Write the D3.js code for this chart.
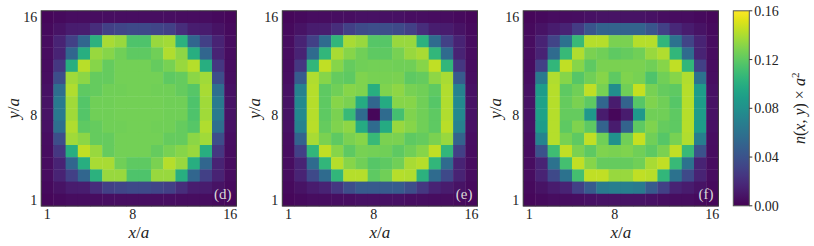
<!DOCTYPE html>
<html><head><meta charset="utf-8">
<script src="https://cdn.jsdelivr.net/npm/d3@7"></script>
<style>
html,body{margin:0;padding:0;background:#fff;}
</style></head>
<body><div id="chart"></div>
<script>
// Grid coordinates (site index) and tick labels
const sites = d3.range(1, 17);
const xTicks = [1, 8, 16];
const yTicks = [1, 8, 16];
const colorTicks = [0, 0.04, 0.08, 0.12, 0.16];
const panelLabels = ["(d)", "(e)", "(f)"];

// Density n(x,y)*a^2, rows listed from y=16 (top) down to y=1 (bottom), columns x=1..16
const densityD = [
 [.003,.004,.005,.005,.005,.006,.006,.006,.006,.006,.006,.005,.005,.005,.004,.003],
 [.004,.008,.012,.013,.020,.030,.033,.035,.035,.033,.030,.020,.013,.012,.008,.004],
 [.005,.015,.030,.052,.102,.139,.135,.115,.115,.135,.138,.102,.052,.030,.015,.005],
 [.005,.015,.052,.100,.135,.131,.125,.120,.120,.125,.141,.133,.100,.052,.015,.005],
 [.005,.025,.100,.143,.131,.122,.126,.126,.126,.122,.127,.135,.142,.100,.025,.005],
 [.006,.038,.137,.132,.122,.122,.126,.126,.126,.126,.120,.122,.132,.137,.038,.006],
 [.007,.058,.141,.120,.122,.125,.125,.126,.126,.125,.125,.122,.118,.139,.058,.007],
 [.008,.065,.137,.117,.125,.125,.126,.126,.126,.126,.125,.125,.115,.137,.065,.008],
 [.008,.065,.137,.117,.125,.125,.126,.126,.126,.126,.125,.125,.115,.137,.065,.008],
 [.007,.058,.141,.120,.122,.125,.125,.126,.126,.125,.125,.122,.118,.141,.058,.007],
 [.006,.038,.137,.132,.122,.122,.126,.126,.126,.126,.122,.122,.132,.137,.038,.006],
 [.005,.025,.100,.145,.135,.122,.126,.126,.126,.122,.127,.131,.135,.100,.025,.005],
 [.005,.015,.052,.100,.139,.139,.125,.120,.120,.128,.142,.135,.100,.052,.015,.005],
 [.005,.015,.030,.052,.102,.135,.135,.115,.115,.135,.135,.100,.052,.030,.015,.005],
 [.004,.008,.012,.013,.020,.030,.033,.035,.035,.033,.030,.020,.013,.012,.008,.004],
 [.003,.004,.005,.005,.005,.006,.006,.006,.006,.006,.006,.005,.005,.005,.004,.003]
];

const densityE = [
 [.003,.004,.005,.005,.006,.006,.007,.007,.007,.007,.006,.006,.005,.005,.004,.003],
 [.004,.008,.012,.013,.020,.030,.036,.038,.038,.036,.030,.020,.013,.012,.008,.004],
 [.005,.015,.030,.055,.105,.139,.135,.118,.118,.135,.135,.102,.055,.030,.015,.005],
 [.005,.015,.055,.105,.139,.131,.125,.120,.120,.127,.135,.139,.105,.055,.015,.005],
 [.005,.025,.105,.145,.131,.122,.125,.126,.126,.125,.125,.131,.145,.105,.025,.005],
 [.006,.045,.141,.131,.122,.120,.129,.127,.127,.128,.120,.122,.133,.139,.045,.006],
 [.007,.070,.142,.120,.125,.131,.129,.100,.129,.133,.127,.125,.120,.141,.070,.007],
 [.008,.075,.142,.120,.131,.128,.098,.052,.098,.131,.131,.125,.118,.141,.075,.008],
 [.008,.075,.142,.120,.128,.108,.055,.003,.055,.112,.129,.125,.120,.141,.075,.008],
 [.007,.070,.143,.122,.129,.133,.098,.055,.098,.135,.131,.125,.120,.143,.070,.007],
 [.006,.050,.139,.128,.120,.128,.131,.108,.128,.128,.120,.122,.128,.135,.050,.006],
 [.005,.030,.105,.145,.131,.120,.127,.126,.125,.120,.125,.131,.145,.105,.030,.005],
 [.005,.015,.055,.105,.142,.131,.125,.118,.120,.125,.139,.142,.105,.055,.015,.005],
 [.005,.015,.035,.055,.105,.142,.142,.120,.125,.142,.141,.102,.055,.035,.015,.005],
 [.004,.008,.012,.015,.025,.038,.045,.045,.045,.045,.038,.025,.015,.012,.008,.004],
 [.003,.004,.005,.005,.006,.006,.007,.007,.007,.007,.006,.006,.005,.005,.004,.003]
];

const densityF = [
 [.003,.004,.005,.005,.006,.007,.008,.008,.008,.008,.007,.006,.005,.005,.004,.003],
 [.004,.008,.012,.015,.028,.042,.050,.050,.050,.050,.042,.030,.018,.012,.008,.004],
 [.005,.015,.032,.060,.108,.142,.142,.128,.128,.142,.142,.105,.060,.032,.015,.005],
 [.005,.015,.055,.108,.141,.128,.125,.120,.122,.125,.135,.141,.105,.055,.015,.005],
 [.005,.030,.105,.145,.131,.120,.128,.128,.128,.128,.125,.131,.145,.105,.030,.005],
 [.006,.065,.141,.131,.118,.125,.131,.120,.129,.127,.115,.125,.131,.141,.060,.006],
 [.007,.088,.142,.120,.125,.145,.127,.078,.125,.146,.127,.122,.120,.142,.088,.007],
 [.008,.092,.142,.122,.128,.120,.052,.012,.050,.118,.129,.125,.118,.142,.088,.008],
 [.008,.092,.142,.122,.122,.085,.012,.003,.012,.085,.125,.125,.120,.142,.088,.008],
 [.007,.088,.142,.120,.129,.120,.050,.012,.050,.120,.129,.122,.120,.142,.088,.007],
 [.006,.072,.142,.127,.120,.145,.125,.080,.125,.146,.125,.118,.127,.141,.068,.006],
 [.005,.040,.110,.145,.128,.120,.129,.128,.129,.125,.120,.128,.145,.108,.040,.005],
 [.005,.015,.060,.112,.145,.131,.122,.122,.122,.125,.139,.145,.108,.060,.015,.005],
 [.005,.015,.035,.060,.112,.145,.145,.135,.135,.145,.143,.105,.060,.035,.015,.005],
 [.004,.008,.012,.015,.030,.045,.065,.068,.068,.065,.045,.030,.015,.012,.008,.004],
 [.003,.004,.005,.005,.006,.007,.008,.008,.008,.008,.007,.006,.005,.005,.004,.003]
];

const panels = [densityD, densityE, densityF];

// ---------- layout ----------
const W = 814, H = 246;
const FONT = '"Liberation Serif"';
const plotTop = 10.8, plotSize = 195.2;
const panelLefts = [41.2, 282.3, 523.2];
const cbar = {x: 733.3, w: 16, top: 10.8, h: 195};

const svg = d3.select("#chart").append("svg").attr("width", W).attr("height", H)
  .style("display", "block").attr("font-family", FONT);
const color = d3.scaleSequential(d3.interpolateViridis).domain([0, 0.16]);

function txt(parent, size) {
  return parent.append("text").attr("font-family", FONT).attr("font-size", size).attr("fill", "#222");
}
function italicFrac(sel, a, b) {
  sel.append("tspan").attr("font-style", "italic").text(a);
  sel.append("tspan").text("/");
  sel.append("tspan").attr("font-style", "italic").text(b);
}

panels.forEach((grid, p) => {
  const x0 = panelLefts[p];
  const x = d3.scaleBand().domain(sites).range([x0, x0 + plotSize]);
  const y = d3.scaleBand().domain(sites).range([plotTop + plotSize, plotTop]);
  const g = svg.append("g");

  const cells = [];
  grid.forEach((row, i) => row.forEach((v, j) => cells.push({xi: sites[j], yi: 16 - i, v})));
  g.selectAll("rect.cell").data(cells).join("rect")
    .attr("class", "cell")
    .attr("x", d => x(d.xi)).attr("y", d => y(d.yi))
    .attr("width", x.bandwidth() + 0.4).attr("height", y.bandwidth() + 0.4)
    .attr("fill", d => color(d.v));

  g.append("rect").attr("x", x0).attr("y", plotTop).attr("width", plotSize).attr("height", plotSize)
    .attr("fill", "none").attr("stroke", "#3a3a3a").attr("stroke-width", 1);

  // tick labels, positioned by the band scales
  xTicks.forEach(t => txt(g, 14).attr("x", x(t) + x.bandwidth() / 2).attr("y", plotTop + plotSize + 12.5)
    .attr("text-anchor", "middle").text(t));
  yTicks.forEach(t => txt(g, 14).attr("x", x0 - 4).attr("y", y(t) + y.bandwidth() / 2 + 5)
    .attr("text-anchor", "end").text(t));

  txt(g, 17).attr("x", x0 + plotSize / 2).attr("y", 238).attr("text-anchor", "middle").call(italicFrac, "x", "a");
  txt(g, 17).attr("transform", `translate(${x0 - 22},${plotTop + plotSize / 2}) rotate(-90)`)
    .attr("text-anchor", "middle").call(italicFrac, "y", "a");

  txt(g, 15).attr("x", x0 + plotSize - 5).attr("y", plotTop + plotSize - 7)
    .attr("text-anchor", "end").attr("fill", "#d8d8d8").text(panelLabels[p]);
});

// ---------- colorbar ----------
const defs = svg.append("defs");
const grad = defs.append("linearGradient").attr("id", "vir").attr("x1", 0).attr("y1", 1).attr("x2", 0).attr("y2", 0);
d3.range(0, 1.0001, 0.05).forEach(t => grad.append("stop").attr("offset", t).attr("stop-color", d3.interpolateViridis(t)));
const cy = d3.scaleLinear().domain([0, 0.16]).range([cbar.top + cbar.h, cbar.top]);
svg.append("rect").attr("x", cbar.x).attr("y", cbar.top).attr("width", cbar.w).attr("height", cbar.h)
  .attr("fill", "url(#vir)").attr("stroke", "#555").attr("stroke-width", 1);
const fmt = d3.format(".2f");
colorTicks.forEach(t => {
  svg.append("line").attr("x1", cbar.x + cbar.w).attr("x2", cbar.x + cbar.w + 3)
    .attr("y1", cy(t)).attr("y2", cy(t)).attr("stroke", "#333");
  txt(svg, 14).attr("x", cbar.x + cbar.w + 5).attr("y", cy(t) + 5).text(fmt(t));
});

const cl = txt(svg, 16).attr("transform", `translate(805,${cbar.top + cbar.h / 2}) rotate(-90)`)
  .attr("text-anchor", "middle");
cl.append("tspan").attr("font-style", "italic").text("n");
cl.append("tspan").text("(");
cl.append("tspan").attr("font-style", "italic").text("x");
cl.append("tspan").text(", ");
cl.append("tspan").attr("font-style", "italic").text("y");
cl.append("tspan").text(") × ");
cl.append("tspan").attr("font-style", "italic").text("a");
cl.append("tspan").attr("font-size", 11).attr("dy", -6).text("2");
</script></body></html>
